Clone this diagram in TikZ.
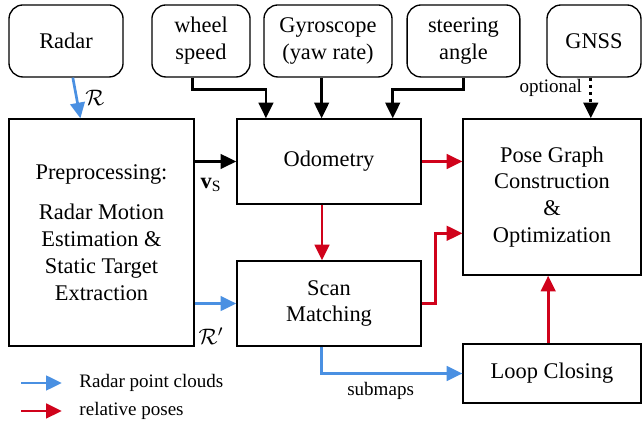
\documentclass[tikz,border=0pt]{standalone}
\usepackage{fontspec}
\setmainfont{Liberation Serif}
\usetikzlibrary{positioning, arrows.meta}
\definecolor{pcblue}{HTML}{4A90E2}
\definecolor{rpred}{HTML}{D0021B}

\begin{document}
\begin{tikzpicture}[
  s/.style      = {line width=1.2pt, -{Triangle[length=7pt,width=6.5pt]}},
  sensor/.style = {rectangle, draw, line width=0.6pt, rounded corners=2.2mm, minimum height=1.13cm, align=center, inner sep=0pt},
  blk/.style    = {rectangle, draw, line width=0.6pt, align=center, inner sep=0pt},
  lbl/.style    = {text=black, font=\fontsize{8.5}{10}\selectfont},
  Ms/.style = {s},
  Op/.style = {s, dash pattern=on 1.4pt off 1.8pt},
  Pc/.style = {s, pcblue},
  Rp/.style = {s, rpred},
  ]
  \useasboundingbox (0,0) rectangle (10.09,-6.653);

  % Sensors
  \node (radar) at (1.036,-0.643) [sensor, minimum width=1.79cm]  {Radar};
  \node (wheel) at (3.154,-0.643) [sensor, minimum width=1.54cm]  {wheel\\speed};
  \node (gyro)  at (5.147,-0.643) [sensor, minimum width=2.01cm]  {Gyroscope\\(yaw rate)};
  \node (steer) at (7.273,-0.643) [sensor, minimum width=1.77cm]  {steering\\angle};
  \node (gnss)  at (9.321,-0.643) [sensor, minimum width=1.475cm] {GNSS};
  % Processing blocks
  \node (pre)  at (1.593,-3.648) [blk, minimum width=2.90cm, minimum height=3.56cm]
    {Preprocessing:\\[6pt]Radar Motion\\Estimation \&\\Static Target\\Extraction};
  \node (odo)  at (5.163,-2.534) [blk, minimum width=2.89cm, minimum height=1.334cm] {Odometry};
  \node (scan) at (5.163,-4.763) [blk, minimum width=2.89cm, minimum height=1.334cm] {Scan\\Matching};
  \node (pose) at (8.662,-3.091) [blk, minimum width=2.79cm, minimum height=2.45cm]
    {Pose Graph\\Construction\\\&\\Optimization};
  \node (loop) at (8.662,-5.861) [blk, minimum width=2.79cm, minimum height=0.926cm] {Loop Closing};

  % Sensor inputs
  \draw[Pc] (radar) -- node[right, text=black] {$\mathcal{R}$} (pre);
  \draw[Ms] ([xshift=-0.13cm]wheel.south) -- ++(0,-0.19) -| ([xshift=-0.99cm]odo.north);
  \draw[Ms] ([xshift=-0.1cm]gyro.south) -- ([xshift=-0.1cm]gyro.south |- odo.north);
  \draw[Ms] (steer.south) -- ++(0,-0.19) -| ([xshift=1.0cm]odo.north);
  \draw[Op] ([xshift=-0.05cm]gnss.south) -- node[lbl, left, pos=0.26] {optional}
    ([xshift=-0.05cm]gnss.south |- pose.north);

  % Preprocessing outputs
  \draw[Ms] (pre.east |- odo.west) -- node[below, pos=0.4, yshift=-0.12cm] {$\mathbf{v}_\mathrm{S}$} (odo.west);
  \draw[Pc] (pre.east |- scan.west) -- node[below, pos=0.4, yshift=-0.24cm, text=black] {$\mathcal{R}'$} (scan.west);

  % Relative poses
  \draw[Rp] (odo.east) -- (odo.east -| pose.west);
  \draw[Rp] ([xshift=-0.11cm]odo.south) -- ([xshift=-0.11cm]odo.south |- scan.north);
  \draw[Rp] (scan.east) -- ++(0.22,0) |- ([yshift=-0.57cm]pose.west);
  \draw[Pc] ([xshift=-0.12cm]scan.south) |- node[lbl, below, pos=0.71] {submaps} (loop.west);
  \draw[Rp] ([xshift=-0.06cm]loop.north) -- ([xshift=-0.06cm]loop.north |- pose.south);

  % Legend
  \node (lgpc) at (1.24,-6.010) [lbl, anchor=west, inner sep=0pt] {Radar point clouds};
  \node (lgrp) at (1.24,-6.449) [lbl, anchor=west, inner sep=0pt] {relative poses};
  \draw[Pc] ([xshift=-0.91cm]lgpc.west) -- ([xshift=-0.27cm]lgpc.west);
  \draw[Rp] ([xshift=-0.91cm]lgrp.west) -- ([xshift=-0.27cm]lgrp.west);
\end{tikzpicture}
\end{document}
